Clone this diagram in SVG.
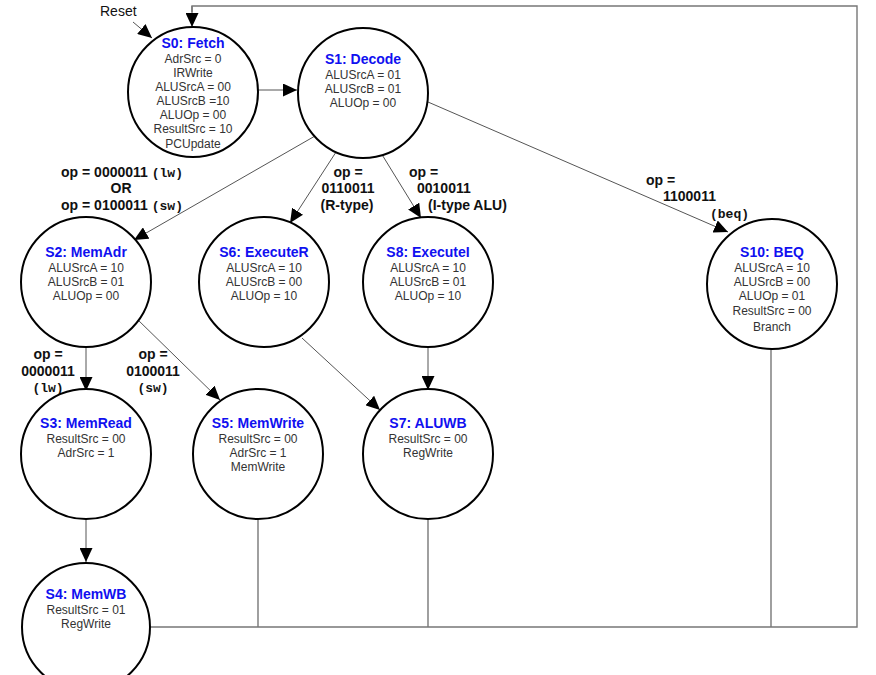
<svg xmlns="http://www.w3.org/2000/svg" width="876" height="675" viewBox="0 0 876 675">
<style>
.st{fill:#fff;stroke:#000;stroke-width:2}
.tt{font-family:"Liberation Sans",Arial,sans-serif;font-size:14px;font-weight:bold;fill:#1010f0;text-anchor:middle}
.bd{font-family:"Liberation Sans",Arial,sans-serif;font-size:12px;fill:#333;text-anchor:middle}
.lb{font-family:"Liberation Sans",Arial,sans-serif;font-size:14px;font-weight:bold;fill:#111}
.mono{font-family:"Liberation Mono","Courier New",monospace;font-size:13px;font-weight:bold}
.c{fill:none;stroke:#555;stroke-width:1}
.fb{fill:none;stroke:#777;stroke-width:1.4}
.ar{marker-end:url(#ah)}
</style>
<defs>
<marker id="ah" markerUnits="userSpaceOnUse" markerWidth="14" markerHeight="13" refX="14" refY="6.5" orient="auto">
<path d="M0,0 L14,6.5 L0,13 z" fill="#000"/>
</marker>
</defs>
<g id="connectors">
<line class="c" x1="133" y1="22" x2="152" y2="38" style="marker-end:url(#ah)"/>
<polyline class="fb" points="192,12 192,6 857,6 857,627 150,627"/>
<line class="fb" x1="192" y1="6" x2="192" y2="27" style="marker-end:url(#ah)"/>
<line class="fb" x1="258" y1="519" x2="258" y2="627"/>
<line class="fb" x1="428" y1="519" x2="428" y2="627"/>
<line class="fb" x1="771" y1="349" x2="771" y2="627"/>
<line class="c ar" x1="258" y1="90" x2="297" y2="90"/>
<line class="c ar" x1="315" y1="136" x2="134" y2="240"/>
<line class="c ar" x1="338" y1="149" x2="290" y2="223"/>
<line class="c ar" x1="381" y1="153" x2="421" y2="218"/>
<line class="c ar" x1="428" y1="102" x2="728" y2="232"/>
<line class="c ar" x1="86" y1="347" x2="86" y2="391"/>
<line class="c ar" x1="136" y1="318" x2="220" y2="400"/>
<line class="c ar" x1="302" y1="338" x2="380" y2="410"/>
<line class="c ar" x1="428" y1="347" x2="428" y2="390"/>
<line class="c ar" x1="86" y1="519" x2="86" y2="562"/>
</g>
<g id="labels">
<text class="lb" x="100" y="16" style="font-weight:normal;font-size:14px">Reset</text>
<text class="lb" x="122" y="177" text-anchor="middle">op = 0000011 <tspan class="mono">(lw)</tspan></text>
<text class="lb" x="121" y="193" text-anchor="middle">OR</text>
<text class="lb" x="122" y="210" text-anchor="middle">op = 0100011 <tspan class="mono">(sw)</tspan></text>
<text class="lb" x="348" y="177" text-anchor="middle">op =</text>
<text class="lb" x="348" y="193" text-anchor="middle">0110011</text>
<text class="lb" x="347" y="210" text-anchor="middle">(R-type)</text>
<text class="lb" x="409" y="177">op =</text>
<text class="lb" x="417" y="193">0010011</text>
<text class="lb" x="428" y="210">(I-type ALU)</text>
<text class="lb" x="646" y="185">op =</text>
<text class="lb" x="663" y="201">1100011</text>
<text class="lb mono" x="710" y="218">(beq)</text>
<text class="lb" x="48" y="359" text-anchor="middle">op =</text>
<text class="lb" x="48" y="376" text-anchor="middle">0000011</text>
<text class="lb mono" x="48" y="392" text-anchor="middle">(lw)</text>
<text class="lb" x="153" y="359" text-anchor="middle">op =</text>
<text class="lb" x="153" y="376" text-anchor="middle">0100011</text>
<text class="lb mono" x="153" y="392" text-anchor="middle">(sw)</text>
</g>
<g id="S0">
<circle class="st" cx="193" cy="92" r="65"/>
<text class="tt" x="193" y="48">S0: Fetch</text>
<text class="bd" x="193" y="63">AdrSrc = 0</text>
<text class="bd" x="193" y="77">IRWrite</text>
<text class="bd" x="193" y="91">ALUSrcA = 00</text>
<text class="bd" x="193" y="105">ALUSrcB =10</text>
<text class="bd" x="193" y="119">ALUOp = 00</text>
<text class="bd" x="193" y="133">ResultSrc = 10</text>
<text class="bd" x="193" y="148">PCUpdate</text>
</g>
<g id="S1">
<circle class="st" cx="363" cy="93" r="65"/>
<text class="tt" x="363" y="64">S1: Decode</text>
<text class="bd" x="363" y="79">ALUSrcA = 01</text>
<text class="bd" x="363" y="93">ALUSrcB = 01</text>
<text class="bd" x="363" y="107">ALUOp = 00</text>
</g>
<g id="S2">
<circle class="st" cx="86" cy="282" r="65"/>
<text class="tt" x="86" y="257">S2: MemAdr</text>
<text class="bd" x="86" y="272">ALUSrcA = 10</text>
<text class="bd" x="86" y="286">ALUSrcB = 01</text>
<text class="bd" x="86" y="300">ALUOp = 00</text>
</g>
<g id="S6">
<circle class="st" cx="264" cy="282" r="65"/>
<text class="tt" x="264" y="257">S6: ExecuteR</text>
<text class="bd" x="264" y="272">ALUSrcA = 10</text>
<text class="bd" x="264" y="286">ALUSrcB = 00</text>
<text class="bd" x="264" y="300">ALUOp = 10</text>
</g>
<g id="S8">
<circle class="st" cx="428" cy="282" r="65"/>
<text class="tt" x="428" y="257">S8: ExecuteI</text>
<text class="bd" x="428" y="272">ALUSrcA = 10</text>
<text class="bd" x="428" y="286">ALUSrcB = 01</text>
<text class="bd" x="428" y="300">ALUOp = 10</text>
</g>
<g id="S10">
<circle class="st" cx="772" cy="284" r="65"/>
<text class="tt" x="772" y="257">S10: BEQ</text>
<text class="bd" x="772" y="272">ALUSrcA = 10</text>
<text class="bd" x="772" y="286">ALUSrcB = 00</text>
<text class="bd" x="772" y="300">ALUOp = 01</text>
<text class="bd" x="772" y="315">ResultSrc = 00</text>
<text class="bd" x="772" y="331">Branch</text>
</g>
<g id="S3">
<circle class="st" cx="86" cy="454" r="65"/>
<text class="tt" x="86" y="428">S3: MemRead</text>
<text class="bd" x="86" y="443">ResultSrc = 00</text>
<text class="bd" x="86" y="457">AdrSrc = 1</text>
</g>
<g id="S5">
<circle class="st" cx="258" cy="454" r="65"/>
<text class="tt" x="258" y="428">S5: MemWrite</text>
<text class="bd" x="258" y="443">ResultSrc = 00</text>
<text class="bd" x="258" y="457">AdrSrc = 1</text>
<text class="bd" x="258" y="471">MemWrite</text>
</g>
<g id="S7">
<circle class="st" cx="428" cy="454" r="65"/>
<text class="tt" x="428" y="428">S7: ALUWB</text>
<text class="bd" x="428" y="443">ResultSrc = 00</text>
<text class="bd" x="428" y="457">RegWrite</text>
</g>
<g id="S4">
<circle class="st" cx="86" cy="627" r="64"/>
<text class="tt" x="86" y="599">S4: MemWB</text>
<text class="bd" x="86" y="614">ResultSrc = 01</text>
<text class="bd" x="86" y="628">RegWrite</text>
</g>
</svg>
